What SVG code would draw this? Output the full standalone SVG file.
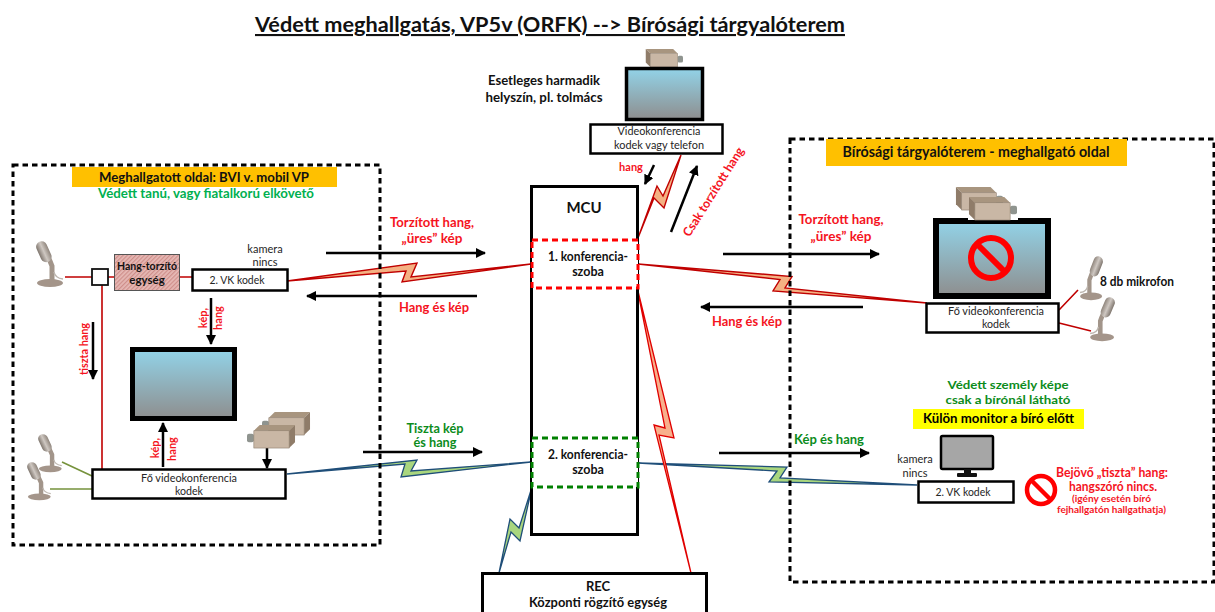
<svg xmlns="http://www.w3.org/2000/svg" width="1215" height="612" viewBox="0 0 1215 612">
<style>
text{font-family:"Lato","Carlito","Open Sans",sans-serif;font-size:12px;fill:#262626;text-anchor:middle}
.b{font-weight:700;fill:#111;font-size:13px}
.r{font-weight:700;fill:#f5141e;font-size:13px}
.g{font-weight:700;fill:#0c8c1c;font-size:13px}
.lg{font-weight:700;fill:#00b050;font-size:13px}
.s{font-size:11px}
.t{font-size:11px}
.box{fill:#fff;stroke:#000;stroke-width:2.5}
.area{fill:none;stroke:#000;stroke-width:3;stroke-dasharray:5.5 4}
.arr{fill:none;stroke:#000;stroke-width:2.5;marker-end:url(#ah)}
.rl{fill:#f4b183;stroke:#c00000;stroke-width:1.4;stroke-linejoin:miter}
.rl2{fill:#f8b08c;stroke:#e00000;stroke-width:1.3}
.gl{fill:#a9d67e;stroke:#1f4e79;stroke-width:1.3}
.wr{fill:none;stroke:#c00000;stroke-width:1.6}
.wg{fill:none;stroke:#76923c;stroke-width:1.6}
.mon{fill:url(#scr);stroke:#000;stroke-width:5}
.no{fill:none;stroke:#ff0000}
</style>
<defs>
<marker id="ah" markerUnits="userSpaceOnUse" markerWidth="12" markerHeight="12" refX="9" refY="5" orient="auto"><path d="M0 0L10 5L0 10z" fill="#000"/></marker>
<linearGradient id="scr" x1="0" y1="0" x2="0" y2="1"><stop offset="0" stop-color="#92d3e8"/><stop offset="1" stop-color="#8e8e8e"/></linearGradient>
<linearGradient id="mg" x1="0" y1="0" x2="1" y2="0"><stop offset="0" stop-color="#7f766e"/><stop offset=".5" stop-color="#cfc8c2"/><stop offset="1" stop-color="#8f857c"/></linearGradient>
<pattern id="hatch" patternUnits="userSpaceOnUse" width="3" height="3" patternTransform="rotate(45)"><rect width="3" height="3" fill="#e6b9b5"/><rect width="1.2" height="3" fill="#cf8f8b"/></pattern>
<g id="mic">
<path d="M9 11Q14 19 16 25L16 40" fill="none" stroke="#a2958a" stroke-width="5"/>
<path d="M18 31Q19 37 27 38" fill="none" stroke="#bdb6af" stroke-width="1.500"/>
<rect x="2" y="0" width="11" height="22" rx="5.500" fill="url(#mg)" transform="rotate(-24 7 10)"/>
<ellipse cx="14" cy="42" rx="13" ry="4" fill="#a4958a"/>
</g>
<g id="cam">
<rect x="0" y="9" width="7" height="9" rx="2" fill="#8f948f"/>
<path d="M7 6L13 0L49 0L43 6z" fill="#a8957f"/>
<path d="M43 6L49 0L49 18L43 24z" fill="#8f7c69"/>
<rect x="7" y="6" width="36" height="18" fill="#c9b7a5" stroke="#8a7a6a" stroke-width=".6"/>
</g>
</defs>
<rect width="1215" height="612" fill="#fff"/>

<text id="title" x="550" y="32" style="font-size:21px;font-weight:700;fill:#111;text-decoration:underline" textLength="590" lengthAdjust="spacingAndGlyphs">Védett meghallgatás, VP5v (ORFK) --&gt; Bírósági tárgyalóterem</text>

<g id="connectors">
<polygon class="rl" points="287,281 417,263 411,277 531,264 402,282 406,271"/>
<polygon class="rl" points="638,264 792,276.500 785,288 927,303 773,291 780,279.500"/>
<polygon class="gl" points="287,474 417,460 411,471 531,462 401,477 405,464"/>
<polygon class="gl" points="638,463 787,467 780,478 917,485 769,482 777,471"/>
<polygon class="rl" points="681,155 664,208 654,198 638,238 657,186 663,196"/>
<polygon class="rl2" points="637,287 674,438 659,435 691,573 654,425 665,428"/>
<polygon class="gl" points="532,487 520,541 511,532 499,573 510,519 519,528"/>
<path class="wr" d="M65 277H92M108 277H114M179 277H192M102 285V469"/>
<path class="wg" d="M62 462L92 476M50 489H92"/>
<path class="wr" d="M1059 310L1078 290M1059 323L1091 331"/>
<path class="arr" d="M326 253H485"/>
<path class="arr" d="M477 296H307"/>
<path class="arr" d="M363 452H482"/>
<path class="arr" d="M723 254H879"/>
<path class="arr" d="M863 307H701"/>
<path class="arr" d="M719 453H869"/>
<path class="arr" d="M654 165L645 184"/>
<path class="arr" d="M671 232L697 166"/>
<path class="arr" d="M211 298V344"/>
<path class="arr" d="M93 322V379"/>
<path class="arr" d="M163 467V423"/>
<path class="arr" d="M267 448V468"/>
</g>

<g id="area-left">
<rect class="area" x="13" y="165" width="367" height="380"/>
<rect x="72" y="167" width="265" height="20" fill="#ffc000"/>
<text x="204" y="182" class="b" textLength="210" lengthAdjust="spacingAndGlyphs">Meghallgatott oldal: BVI v. mobil VP</text>
<text x="206" y="198" class="lg" textLength="216" lengthAdjust="spacingAndGlyphs">Védett tanú, vagy fiatalkorú elkövető</text>
</g>
<g id="area-right">
<rect class="area" x="790" y="139" width="424" height="443"/>
<rect x="826" y="139" width="301" height="27" fill="#ffc000"/>
<text x="976" y="157" class="b" style="font-size:15px" textLength="267" lengthAdjust="spacingAndGlyphs">Bírósági tárgyalóterem - meghallgató oldal</text>
</g>

<g id="left-mic-1"><use href="#mic" transform="translate(36 241)"/></g>
<g id="left-mic-2"><use href="#mic" transform="translate(38 434) scale(.88 .83)"/></g>
<g id="left-mic-3"><use href="#mic" transform="translate(27 462) scale(.88 .83)"/></g>
<g id="junction"><rect x="92" y="269" width="16" height="16" fill="#fff" stroke="#111" stroke-width="1.800"/></g>
<g id="distorter">
<rect x="114.500" y="254.500" width="65" height="36" fill="url(#hatch)" stroke="#555" stroke-width="1"/>
<text x="147" y="270" class="b" style="font-size:11.500px" textLength="60" lengthAdjust="spacingAndGlyphs">Hang-torzító</text>
<text x="147" y="284" class="b" style="font-size:11.500px">egység</text>
</g>
<g id="left-vk2">
<rect class="box" x="192.500" y="269.500" width="95" height="21"/>
<text x="237" y="284" textLength="55" lengthAdjust="spacingAndGlyphs">2. VK kodek</text>
<text x="265" y="253" class="t">kamera</text>
<text x="265" y="266" class="t">nincs</text>
</g>
<g id="left-monitor"><rect class="mon" x="132.500" y="349.500" width="102" height="69"/></g>
<g id="left-cameras"><use href="#cam" transform="translate(262 412) scale(.98 .96)"/><use href="#cam" transform="translate(247 425) scale(.98 .96)"/></g>
<g id="left-main-codec">
<rect class="box" x="92.500" y="469.500" width="193" height="29"/>
<text x="189" y="482" class="t" textLength="96" lengthAdjust="spacingAndGlyphs">Fő videokonferencia</text>
<text x="189" y="495" class="t" textLength="28" lengthAdjust="spacingAndGlyphs">kodek</text>
</g>
<g id="left-labels">
<text class="r s" transform="translate(207 318) rotate(-90)">kép,</text>
<text class="r s" transform="translate(222 318) rotate(-90)">hang</text>
<text class="r s" transform="translate(88 349) rotate(-90)" textLength="52" lengthAdjust="spacingAndGlyphs">tiszta hang</text>
<text class="r s" transform="translate(159 448) rotate(-90)">kép,</text>
<text class="r s" transform="translate(176 449) rotate(-90)">hang</text>
</g>

<g id="link-labels">
<text class="r" x="432" y="227" textLength="84" lengthAdjust="spacingAndGlyphs">Torzított hang,</text>
<text class="r" x="432" y="243" textLength="61" lengthAdjust="spacingAndGlyphs">„üres” kép</text>
<text class="r" x="434" y="312" textLength="70" lengthAdjust="spacingAndGlyphs">Hang és kép</text>
<text class="g" x="435" y="433" textLength="57" lengthAdjust="spacingAndGlyphs">Tiszta kép</text>
<text class="g" x="435" y="447" textLength="43" lengthAdjust="spacingAndGlyphs">és hang</text>
<text class="r" x="841" y="224" textLength="85" lengthAdjust="spacingAndGlyphs">Torzított hang,</text>
<text class="r" x="841" y="241" textLength="61" lengthAdjust="spacingAndGlyphs">„üres” kép</text>
<text class="r" x="747" y="326" textLength="70" lengthAdjust="spacingAndGlyphs">Hang és kép</text>
<text class="g" x="829" y="444" textLength="70" lengthAdjust="spacingAndGlyphs">Kép és hang</text>
<text class="r s" x="631" y="171">hang</text>
<text class="r" transform="translate(717 194) rotate(-57.700)" style="font-size:12.500px" textLength="103" lengthAdjust="spacingAndGlyphs">Csak torzított hang</text>
</g>

<g id="mcu">
<rect x="531.500" y="186.500" width="106" height="348" fill="#fff" stroke="#000" stroke-width="3"/>
<text x="584" y="213" class="b" style="font-size:15px">MCU</text>
</g>
<g id="room-1">
<rect x="532" y="240" width="106" height="48" fill="#fff" stroke="#ff0000" stroke-width="3" stroke-dasharray="6 4"/>
<text x="588" y="261" class="b" style="font-size:12.500px" textLength="80" lengthAdjust="spacingAndGlyphs">1. konferencia-</text>
<text x="588" y="276" class="b" style="font-size:12.500px">szoba</text>
</g>
<g id="room-2">
<rect x="532" y="438" width="106" height="49" fill="#fff" stroke="#008000" stroke-width="3" stroke-dasharray="6 4"/>
<text x="588" y="459" class="b" style="font-size:12.500px" textLength="80" lengthAdjust="spacingAndGlyphs">2. konferencia-</text>
<text x="588" y="474" class="b" style="font-size:12.500px">szoba</text>
</g>
<g id="rec">
<rect x="482.500" y="573.500" width="224" height="50" fill="#fff" stroke="#000" stroke-width="3"/>
<text x="598" y="591" class="b">REC</text>
<text x="598" y="607" class="b" textLength="138" lengthAdjust="spacingAndGlyphs">Központi rögzítő egység</text>
</g>

<g id="third-site">
<text x="544" y="85" class="b" textLength="112" lengthAdjust="spacingAndGlyphs">Esetleges harmadik</text>
<text x="544" y="102" class="b" textLength="117" lengthAdjust="spacingAndGlyphs">helyszín, pl. tolmács</text>
<use href="#cam" transform="translate(683 49) scale(-.76 .75)"/>
<rect class="mon" x="626.500" y="68.500" width="76" height="51" style="stroke-width:3.500"/>
<rect class="box" x="590.500" y="124.500" width="132" height="29"/>
<text x="659" y="135" class="t" textLength="83" lengthAdjust="spacingAndGlyphs">Videokonferencia</text>
<text x="659" y="149" class="t" textLength="90" lengthAdjust="spacingAndGlyphs">kodek vagy telefon</text>
</g>

<g id="right-monitor">
<rect class="mon" x="936" y="221" width="112" height="75" style="stroke-width:6"/>
<use href="#cam" transform="translate(1003 187) scale(-.96 .96)"/>
<rect x="968" y="216" width="50" height="4" fill="#fff"/>
<use href="#cam" transform="translate(1017 197) scale(-.98 .96)"/>
<circle class="no" cx="991" cy="258" r="20" stroke-width="6"/>
<path class="no" d="M977 244L1005 272" stroke-width="6"/>
</g>
<g id="right-mic-1"><use href="#mic" transform="translate(1103 256) scale(-.85 .96)"/></g>
<g id="right-mic-2"><use href="#mic" transform="translate(1115 297) scale(-.92 .96)"/></g>
<text id="mic-label" x="1137" y="286" class="b" textLength="74" lengthAdjust="spacingAndGlyphs">8 db mikrofon</text>
<g id="right-main-codec">
<rect class="box" x="926.500" y="303.500" width="132" height="29"/>
<text x="996" y="315" class="t" textLength="96" lengthAdjust="spacingAndGlyphs">Fő videokonferencia</text>
<text x="996" y="328" class="t" textLength="28" lengthAdjust="spacingAndGlyphs">kodek</text>
</g>
<g id="judge-monitor">
<text x="1008" y="389" class="g" style="font-size:12px" textLength="121" lengthAdjust="spacingAndGlyphs">Védett személy képe</text>
<text x="1008" y="404" class="g" style="font-size:12px" textLength="125" lengthAdjust="spacingAndGlyphs">csak a bírónál látható</text>
<rect x="913" y="409" width="171" height="20" fill="#ffff00"/>
<text x="998.500" y="423" class="b" style="fill:#000" textLength="151" lengthAdjust="spacingAndGlyphs">Külön monitor a bíró előtt</text>
<rect x="941" y="436" width="52" height="33" rx="1.500" fill="#a6a6a6" stroke="#000" stroke-width="2.500"/>
<rect x="964" y="469" width="7" height="5" fill="#111"/>
<rect x="957" y="473" width="20" height="4" rx="1" fill="#111"/>
</g>
<g id="right-vk2">
<rect class="box" x="918.500" y="481.500" width="95" height="21"/>
<text x="963" y="496" textLength="55" lengthAdjust="spacingAndGlyphs">2. VK kodek</text>
<text x="915" y="463" class="t">kamera</text>
<text x="915" y="477" class="t">nincs</text>
</g>
<g id="no-speaker">
<circle class="no" cx="1041" cy="490" r="14" stroke-width="4.500"/>
<path class="no" d="M1031 480L1051 500" stroke-width="4.500"/>
<text x="1112" y="477" class="r" textLength="112" lengthAdjust="spacingAndGlyphs">Bejövő „tiszta” hang:</text>
<text x="1113" y="491" class="r" textLength="88" lengthAdjust="spacingAndGlyphs">hangszóró nincs.</text>
<text x="1111.500" y="502" class="r" style="font-size:10px" textLength="79" lengthAdjust="spacingAndGlyphs">(igény esetén bíró</text>
<text x="1111.500" y="513" class="r" style="font-size:10px" textLength="109" lengthAdjust="spacingAndGlyphs">fejhallgatón hallgathatja)</text>
</g>
</svg>
